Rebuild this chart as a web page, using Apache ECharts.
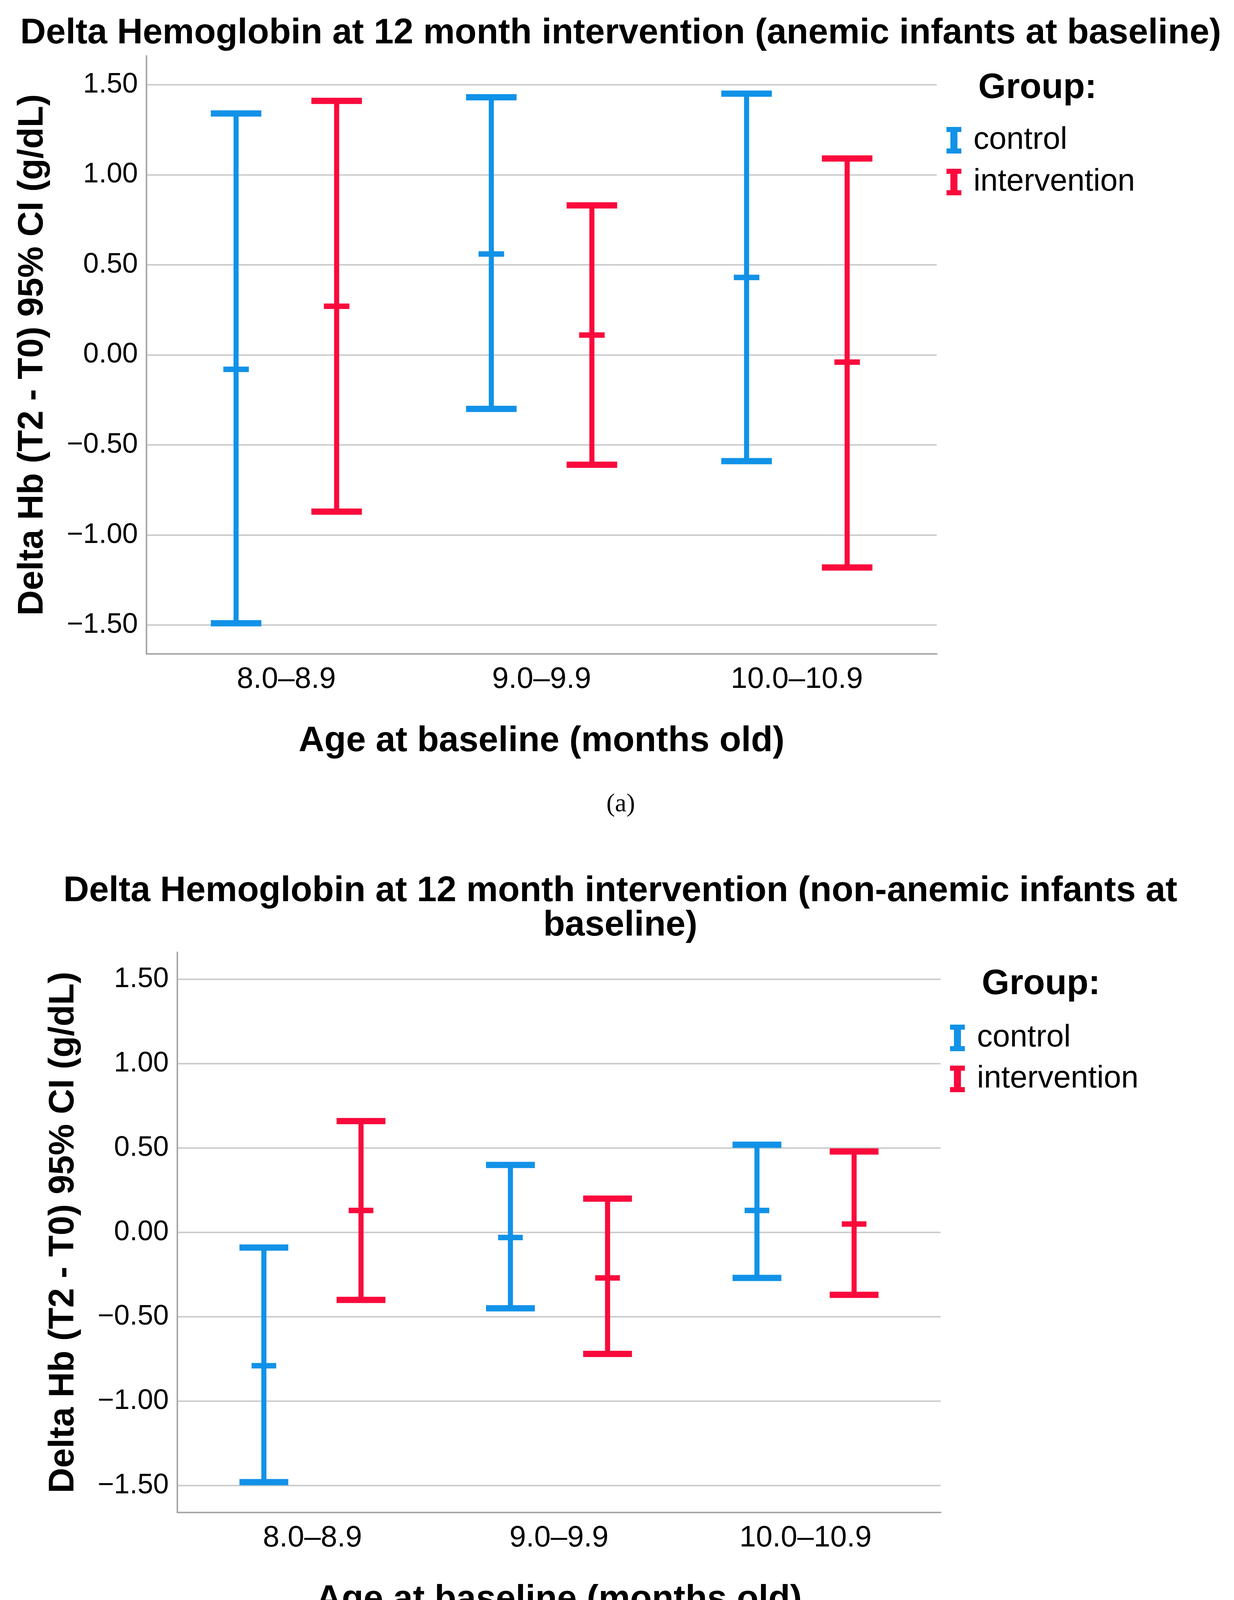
<!DOCTYPE html>
<html>
<head>
<meta charset="utf-8">
<title>Delta Hemoglobin at 12 month intervention</title>
<script src="https://cdn.jsdelivr.net/npm/echarts@6/dist/echarts.min.js"></script>
<style>
  html, body { margin: 0; padding: 0; background: #fff; }
  #chart { width: 3159px; height: 4315px; }
</style>
</head>
<body>
<div id="chart"></div>
<script>
// age at baseline groups (x axis)
var categories = ['8.0–8.9', '9.0–9.9', '10.0–10.9'];
var yTicks = [-1.5, -1, -0.5, 0, 0.5, 1, 1.5];
var groups = ['control', 'intervention'];

// (a) anemic infants at baseline, 95% CI of delta Hb
var controlLowA       = [-1.49, -0.30, -0.59];
var controlMeanA      = [-0.08,  0.56,  0.43];
var controlHighA      = [ 1.34,  1.43,  1.45];
var interventionLowA  = [-0.87, -0.61, -1.18];
var interventionMeanA = [ 0.27,  0.11, -0.04];
var interventionHighA = [ 1.41,  0.83,  1.09];

// (b) non-anemic infants at baseline
var controlLowB       = [-1.48, -0.45, -0.27];
var controlMeanB      = [-0.79, -0.03,  0.13];
var controlHighB      = [-0.09,  0.40,  0.52];
var interventionLowB  = [-0.40, -0.72, -0.37];
var interventionMeanB = [ 0.13, -0.27,  0.05];
var interventionHighB = [ 0.66,  0.20,  0.48];

var BLUE = '#1192e8';
var RED  = '#fa0a3c';
var FONT = '"Liberation Sans", Arial, sans-serif';

function rows(low, mean, high) {
    return categories.map(function (c, i) {
        return [i + 1, low[i], mean[i], high[i]];
    });
}

// error bar: whisker + caps + mean tick, shifted inside the category
function errorBar(shift) {
    return function (params, api) {
        var unit = api.size([1, 0])[0];
        var x = api.value(0) + shift;
        var top = api.coord([x, api.value(3)]);
        var mid = api.coord([x, api.value(2)]);
        var bot = api.coord([x, api.value(1)]);
        var color = api.visual('color');
        var cap = unit * 0.099, tick = unit * 0.05;
        function seg(x1, y1, x2, y2, w) {
            return {type: 'line', shape: {x1: x1, y1: y1, x2: x2, y2: y2},
                    style: {stroke: color, lineWidth: w}};
        }
        return {
            type: 'group',
            children: [
                seg(top[0], top[1], bot[0], bot[1], 13),
                seg(top[0] - cap, top[1], top[0] + cap, top[1], 16),
                seg(bot[0] - cap, bot[1], bot[0] + cap, bot[1], 16),
                seg(mid[0] - tick, mid[1], mid[0] + tick, mid[1], 14)
            ]
        };
    };
}

function fmtY(v) {
    return (v < 0 ? '\u2212' : '') + Math.abs(v).toFixed(2);
}

function yAxisFor(i) {
    return {
        gridIndex: i, type: 'value', min: -1.66, max: 1.66,
        axisLine: {show: true, onZero: false, lineStyle: {color: '#a8a8a8', width: 4}},
        axisTick: {show: false, customValues: yTicks},
        axisLabel: {customValues: yTicks, formatter: fmtY, fontSize: 72, color: '#000', margin: 22, fontFamily: FONT},
        splitLine: {show: true, lineStyle: {color: '#cdcdcd', width: 4}},
        name: 'Delta Hb (T2 - T0) 95% CI (g/dL)',
        nameLocation: 'middle', nameRotate: 90, nameGap: 246,
        nameTextStyle: {fontSize: 90, fontWeight: 'bold', color: '#000', fontFamily: FONT}
    };
}

function xAxisFor(i) {
    return {
        gridIndex: i, type: 'value', min: 0.452, max: 3.548,
        axisLine: {show: true, onZero: false, lineStyle: {color: '#a8a8a8', width: 4}},
        axisTick: {show: false, customValues: [1, 2, 3]},
        axisLabel: {
            customValues: [1, 2, 3],
            formatter: function (v) { return categories[Math.round(v) - 1]; },
            fontSize: 76, color: '#000', margin: 28, fontFamily: FONT
        },
        splitLine: {show: false},
        name: 'Age at baseline (months old)',
        nameLocation: 'middle', nameGap: 178,
        nameTextStyle: {fontSize: 91, fontWeight: 'bold', color: '#000', fontFamily: FONT}
    };
}

var ICON = 'path://M0,0H38V13H28V55H38V68H0V55H10V13H0Z';

function legendFor(left, top, gap) {
    return {
        orient: 'vertical', left: left, top: top, padding: 0,
        itemWidth: 38, itemHeight: 68, itemGap: gap,
        data: groups.map(function (g) { return {name: g, icon: ICON}; }),
        textStyle: {fontSize: 80, color: '#000', lineHeight: 80, fontFamily: FONT, padding: [0, 0, 0, 26]}
    };
}

function label(text, x, y, size, weight, family, lh) {
    return {
        type: 'text', x: x, y: y,
        style: {text: text, fontSize: size, fontWeight: weight, fontFamily: family,
                fill: '#000', align: 'center', verticalAlign: 'middle', lineHeight: lh || size}
    };
}

var option = {
    backgroundColor: '#fff',
    animation: false,
    textStyle: {fontFamily: FONT},
    grid: [
        {left: 375, top: 143, width: 2023, height: 1531},
        {left: 454, top: 2438, width: 1954, height: 1434}
    ],
    xAxis: [xAxisFor(0), xAxisFor(1)],
    yAxis: [yAxisFor(0), yAxisFor(1)],
    legend: [legendFor(2423, 319, 27), legendFor(2432, 2617, 25)],
    graphic: [
        label('Delta Hemoglobin at 12 month intervention (anemic infants at baseline)', 1589, 86, 91, 'bold', FONT),
        label('Group:', 2656, 226, 91, 'bold', FONT),
        label('(a)', 1589, 2060, 66, 'normal', '"Liberation Serif", "Times New Roman", serif'),
        label('Delta Hemoglobin at 12 month intervention (non-anemic infants at\nbaseline)', 1588, 2326, 91, 'bold', FONT, 88),
        label('Group:', 2665, 2520, 91, 'bold', FONT),
        label('(b)', 1589, 4258, 66, 'normal', '"Liberation Serif", "Times New Roman", serif')
    ],
    series: [
        {type: 'custom', name: 'control', xAxisIndex: 0, yAxisIndex: 0, itemStyle: {color: BLUE},
         renderItem: errorBar(-0.197), encode: {x: 0, y: [1, 2, 3]},
         data: rows(controlLowA, controlMeanA, controlHighA)},
        {type: 'custom', name: 'intervention', xAxisIndex: 0, yAxisIndex: 0, itemStyle: {color: RED},
         renderItem: errorBar(0.197), encode: {x: 0, y: [1, 2, 3]},
         data: rows(interventionLowA, interventionMeanA, interventionHighA)},
        {type: 'custom', name: 'control', xAxisIndex: 1, yAxisIndex: 1, itemStyle: {color: BLUE},
         renderItem: errorBar(-0.197), encode: {x: 0, y: [1, 2, 3]},
         data: rows(controlLowB, controlMeanB, controlHighB)},
        {type: 'custom', name: 'intervention', xAxisIndex: 1, yAxisIndex: 1, itemStyle: {color: RED},
         renderItem: errorBar(0.197), encode: {x: 0, y: [1, 2, 3]},
         data: rows(interventionLowB, interventionMeanB, interventionHighB)}
    ]
};

echarts.init(document.getElementById('chart')).setOption(option);
</script>
</body>
</html>
